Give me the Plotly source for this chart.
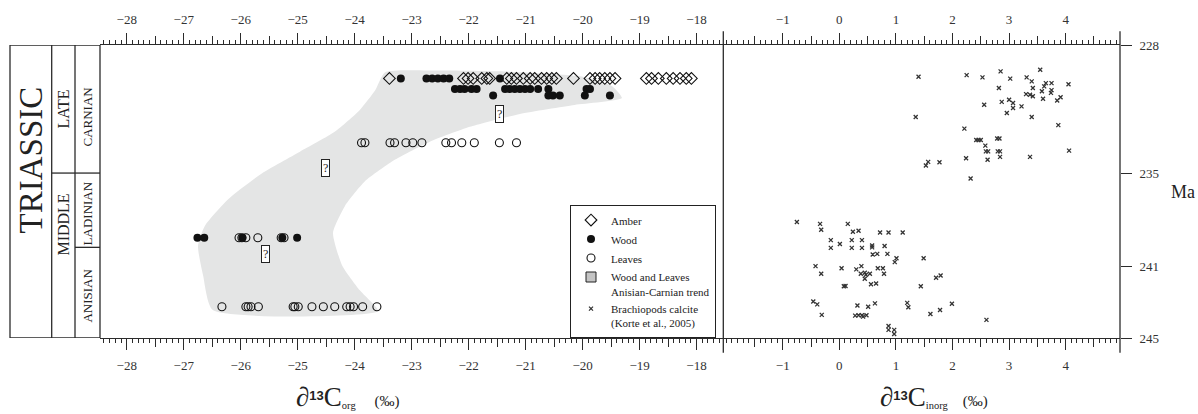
import plotly.graph_objects as go

SERIF = "Liberation Serif"
INK = "#2b2b2b"

# ---------------- organic carbon (left panel), per mil ----------------
# stratigraphic levels (age-axis position) of the sampled horizons
lvl_carnian_top = 229.94
lvl_carnian_mid = 230.55
lvl_carnian_low = 230.93
lvl_carnian_leaf = 233.67
lvl_ladinian = 239.18
lvl_anisian = 243.19

amber_d13c = [-23.39, -22.09, -22.01, -21.92, -21.77, -21.68, -21.63, -21.33, -21.25,
              -21.16, -21.04, -20.92, -20.84, -20.72, -20.63, -20.54, -20.46, -20.16,
              -19.87, -19.78, -19.70, -19.61, -19.52, -19.43, -18.88, -18.79, -18.67,
              -18.53, -18.41, -18.29, -18.18, -18.09]

wood_top = [-23.19, -22.74, -22.64, -22.54, -22.44, -22.34, -21.45]
wood_mid = [-22.24, -22.15, -22.07, -21.95, -21.86, -21.36, -21.28, -21.19, -21.10,
            -21.01, -20.92, -20.78, -20.60, -19.93, -19.87]
wood_low = [-21.57, -20.60, -20.52, -20.40, -19.96, -19.52]
wood_ladinian = [-26.76, -26.64, -25.97, -25.27, -25.01]

leaves_carnian = [-23.88, -23.82, -23.38, -23.30, -23.10, -22.98, -22.82, -22.40, -22.30,
                  -22.12, -21.90, -21.46, -21.16]
leaves_ladinian = [-26.03, -25.98, -25.91, -25.70, -25.29, -25.24]
leaves_anisian = [-26.33, -25.91, -25.87, -25.82, -25.69, -25.08, -25.05, -24.99, -24.75,
                  -24.55, -24.35, -24.14, -24.08, -24.02, -23.86, -23.61]

# outline of the Anisian-Carnian wood/leaves trend band
band_d13c = [-23.47, -23.64, -23.91, -24.35, -24.96, -25.63, -26.22, -26.63, -26.75, -26.66,
             -26.49, -23.59, -23.91, -24.22, -24.38, -24.17, -23.82, -23.29, -22.68, -21.98,
             -21.10, -20.14, -19.31, -19.48, -20.04, -21.45, -22.68]
band_age = [229.59, 230.63, 231.77, 233.04, 234.19, 235.45, 236.95, 238.50, 239.65, 241.37,
            243.38, 243.44, 242.23, 240.79, 238.90, 237.34, 235.91, 234.65, 233.61, 232.75,
            232.00, 231.48, 231.08, 230.39, 229.82, 229.53, 229.48]

# question marks placed along the trend
query_d13c = [-21.45, -24.52, -25.57]
query_age = [232.00, 235.16, 240.10]

# ---------------- brachiopod calcite (right panel), per mil ----------------
brach_d13c = [1.40, 2.25, 2.53, 2.85, 3.02, 3.31, 3.55, 3.40, 3.65, 3.75, 4.05, 3.62, 2.82,
              3.42, 3.58, 3.75, 3.74, 3.30, 3.37, 3.42, 3.60, 3.91, 3.85, 2.87, 3.00, 3.07,
              2.56, 3.22, 3.07, 2.96, 1.35, 3.40, 3.87, 2.21, 2.42, 2.46, 2.50, 2.79, 2.83,
              2.58, 2.59, 2.63, 2.80, 2.84, 2.84, 3.37, 4.06, 2.24, 2.62, 1.57, 1.53, 1.77,
              2.32,
              -0.75, -0.34, -0.32, 0.15, 0.24, 0.34, 0.72, 0.87, 1.12, -0.15, 0.22, 0.40,
              0.01, -0.15, 0.22, 0.40, 0.58, 0.58, 0.80, 0.59, 0.67, 0.85, 1.01, 0.98, 1.49,
              -0.42, -0.32, 0.04, 0.30, 0.39, 0.38, 0.45, 0.47, 0.54, 0.45, 0.68, 0.77, 0.79,
              0.56, 0.65, 0.08, 0.11, 1.44, 1.71, 1.79, -0.46, -0.39, -0.31, 0.32, 0.51,
              0.63, 0.28, 0.34, 0.40, 0.42, 0.48, 1.20, 1.22, 1.99, 1.78, 1.61, 2.60, 0.87,
              0.87, 0.97, 0.97]
brach_age = [229.84, 229.75, 229.88, 229.53, 229.95, 229.88, 229.44, 230.11, 230.21, 230.21,
             230.28, 230.40, 230.49, 230.49, 230.68, 230.62, 230.78, 230.85, 230.89, 230.97,
             231.12, 231.03, 231.22, 231.30, 231.18, 231.37, 231.47, 231.56, 231.66, 231.95,
             232.18, 232.18, 232.65, 232.85, 233.51, 233.51, 233.51, 233.42, 233.42, 233.84,
             234.17, 234.17, 234.17, 234.17, 234.49, 234.49, 234.13, 234.57, 234.66, 234.78,
             234.99, 234.80, 235.75,
             238.27, 238.38, 238.72, 238.38, 238.84, 238.78, 238.88, 238.88, 238.88, 239.32,
             239.32, 239.32, 239.55, 239.77, 239.77, 239.77, 239.63, 239.74, 239.66, 240.16,
             240.12, 240.12, 240.37, 240.60, 240.37, 240.83, 241.27, 240.95, 241.02, 240.83,
             241.27, 241.21, 241.33, 241.27, 241.56, 240.95, 240.95, 241.27, 241.88, 241.84,
             242.00, 241.98, 242.00, 241.50, 241.37, 242.88, 243.05, 243.66, 243.11, 243.19,
             242.99, 243.70, 243.68, 243.68, 243.76, 243.68, 242.96, 243.22, 243.01, 243.38,
             243.61, 243.95, 244.30, 244.53, 244.53, 244.77]

# ---------------- axes ----------------
org_ticks = [-28, -27, -26, -25, -24, -23, -22, -21, -20, -19, -18]
org_half = [-27.5, -26.5, -25.5, -24.5, -23.5, -22.5, -21.5, -20.5, -19.5, -18.5, -17.5]
inorg_ticks = [-1, 0, 1, 2, 3, 4]
inorg_half = [-1.5, -0.5, 0.5, 1.5, 2.5, 3.5, 4.5]
org_range = [-28.47, -17.53]
inorg_range = [-2.05, 4.96]

age_tick_pos = [228, 235.43, 240.85, 245]
age_tick_text = ["228", "235", "241", "245"]

# stratigraphic column boundaries (age-axis positions)
strat_top, strat_late_mid, strat_carn_lad, strat_lad_anis, strat_bottom = 228, 235.43, 235.43, 239.74, 245

W, H = 1198, 414
ML, MR, MT, MB = 100, 78, 42, 76
PW = W - ML - MR
PH = H - MT - MB
split = (723.3 - ML) / PW


def px_x(p):
    return (p - ML) / PW


def px_y(p):
    return (H - MB - p) / PH


fig = go.Figure()

# trend band
fig.add_trace(go.Scatter(
    x=band_d13c + band_d13c[:1], y=band_age + band_age[:1], mode="lines", fill="toself",
    fillcolor="#e4e5e5", line=dict(width=0, color="#e4e5e5", shape="spline", smoothing=0.55),
    showlegend=False, hoverinfo="skip", xaxis="x", yaxis="y"))

leaf_x = leaves_carnian + leaves_ladinian + leaves_anisian
leaf_y = ([lvl_carnian_leaf] * len(leaves_carnian) + [lvl_ladinian] * len(leaves_ladinian)
          + [lvl_anisian] * len(leaves_anisian))
fig.add_trace(go.Scatter(
    x=leaf_x, y=leaf_y, mode="markers", name="Leaves", legendrank=3,
    marker=dict(symbol="circle-open", size=8, color="#111", line=dict(width=1.1)),
    xaxis="x", yaxis="y"))

wood_x = wood_top + wood_mid + wood_low + wood_ladinian
wood_y = ([lvl_carnian_top] * len(wood_top) + [lvl_carnian_mid] * len(wood_mid)
          + [lvl_carnian_low] * len(wood_low) + [lvl_ladinian] * len(wood_ladinian))
fig.add_trace(go.Scatter(
    x=wood_x, y=wood_y, mode="markers", name="Wood", legendrank=2,
    marker=dict(symbol="circle", size=8, color="#111"), xaxis="x", yaxis="y"))

fig.add_trace(go.Scatter(
    x=amber_d13c, y=[lvl_carnian_top] * len(amber_d13c), mode="markers", name="Amber",
    legendrank=1,
    marker=dict(symbol="diamond-open", size=9, color="#111", line=dict(width=1.1)),
    xaxis="x", yaxis="y"))

# legend swatch for the band
fig.add_trace(go.Scatter(
    x=[None], y=[None], mode="markers", name="Wood and Leaves<br>Anisian-Carnian trend",
    legendrank=4,
    marker=dict(symbol="square", size=10, color="#c4c4c4", line=dict(color="#222", width=1)),
    xaxis="x", yaxis="y"))

fig.add_trace(go.Scatter(
    x=brach_d13c, y=brach_age, mode="markers",
    name="Brachiopods calcite<br>(Korte et al., 2005)", legendrank=5,
    marker=dict(symbol="x-thin", size=4, color="#333", line=dict(width=1.3, color="#333")),
    xaxis="x2", yaxis="y"))

# placeholder traces so every overlay axis is rendered
for ax in ["x3", "x4", "x5", "x6", "x7", "x8"]:
    fig.add_trace(go.Scatter(x=[None], y=[None], xaxis=ax, yaxis="y", showlegend=False,
                             hoverinfo="skip"))

tickfont = dict(family=SERIF, size=13, color="#333")


def x_axis(domain, rng, side, vals, labels, length, minor, overlay=None):
    d = dict(range=rng, autorange=False, side=side, anchor="y", ticks="outside",
             tickmode="array", tickvals=vals, ticklen=length, tickwidth=1.2, tickcolor=INK,
             showticklabels=labels, tickfont=tickfont, ticklabelstandoff=4,
             showgrid=False, zeroline=False, fixedrange=True)
    if overlay:
        d["overlaying"] = overlay
    else:
        d["domain"] = domain
    if minor:
        d["minor"] = dict(ticks="outside", dtick=0.1, tick0=0, ticklen=4, tickwidth=1,
                          tickcolor=INK, showgrid=False)
        d["showline"] = True
        d["linecolor"] = INK
        d["linewidth"] = 1.3
    else:
        d["showline"] = False
    return d


fig.update_layout(
    xaxis=x_axis([0, split], org_range, "bottom", org_ticks, True, 11, True),
    xaxis3=x_axis(None, org_range, "top", org_ticks, True, 11, True, overlay="x"),
    xaxis4=x_axis(None, org_range, "bottom", org_half, False, 8, False, overlay="x"),
    xaxis5=x_axis(None, org_range, "top", org_half, False, 8, False, overlay="x"),
    xaxis2=x_axis([split, 1], inorg_range, "bottom", inorg_ticks, True, 11, True),
    xaxis6=x_axis(None, inorg_range, "top", inorg_ticks, True, 11, True, overlay="x2"),
    xaxis7=x_axis(None, inorg_range, "bottom", inorg_half, False, 8, False, overlay="x2"),
    xaxis8=x_axis(None, inorg_range, "top", inorg_half, False, 8, False, overlay="x2"),
    yaxis=dict(domain=[0, 1], range=[245, 228], autorange=False, anchor="x2", side="right",
               tickmode="array", tickvals=age_tick_pos, ticktext=age_tick_text,
               ticks="outside", ticklen=11, tickwidth=1.2, tickcolor=INK, tickfont=tickfont,
               ticklabelstandoff=5, showline=False, showgrid=False, zeroline=False,
               fixedrange=True),
)

shapes = []
line_style = dict(color=INK, width=1.3)
# panel divider and right frame line, running past both axes
for xp in [split, 1.0]:
    shapes.append(dict(type="line", xref="paper", yref="paper", x0=xp, x1=xp,
                       y0=px_y(353), y1=px_y(28), line=line_style))
# stratigraphic column
c0, c1, c2, c3 = px_x(10), px_x(51.7), px_x(75), px_x(100)
shapes.append(dict(type="rect", xref="paper", yref="y", x0=c0, x1=c3, y0=strat_top,
                   y1=strat_bottom, line=line_style))
for xc in [c1, c2]:
    shapes.append(dict(type="line", xref="paper", yref="y", x0=xc, x1=xc, y0=strat_top,
                       y1=strat_bottom, line=line_style))
shapes.append(dict(type="line", xref="paper", yref="y", x0=c1, x1=c2, y0=strat_late_mid,
                   y1=strat_late_mid, line=line_style))
shapes.append(dict(type="line", xref="paper", yref="y", x0=c2, x1=c3, y0=strat_carn_lad,
                   y1=strat_carn_lad, line=line_style))
shapes.append(dict(type="line", xref="paper", yref="y", x0=c2, x1=c3, y0=strat_lad_anis,
                   y1=strat_lad_anis, line=line_style))
fig.update_layout(shapes=shapes)

ann = []


def col_label(text, xp, yv, size):
    ann.append(dict(text=text, xref="paper", yref="y", x=xp, y=yv, showarrow=False,
                    xanchor="center", yanchor="middle", textangle=-90,
                    font=dict(family=SERIF, size=size, color="#222")))


col_label("TRIASSIC", (c0 + c1) / 2, 234.65, 33)
col_label("LATE", (c1 + c2) / 2, 231.72, 16)
col_label("MIDDLE", (c1 + c2) / 2, 238.4, 16)
col_label("CARNIAN", (c2 + c3) / 2, 232.18, 13)
col_label("LADINIAN", (c2 + c3) / 2, 237.80, 13)
col_label("ANISIAN", (c2 + c3) / 2, 242.57, 13)

for qx, qy in zip(query_d13c, query_age):
    ann.append(dict(text="?", x=qx, y=qy, xref="x", yref="y", showarrow=False,
                    xanchor="center", yanchor="middle",
                    font=dict(family=SERIF, size=12, color="#222"), bgcolor="white",
                    bordercolor="#222", borderwidth=1, borderpad=1))

big = '<span style="font-size:27px">'
sup13 = '<sup><span style="font-family:Liberation Sans;font-size:13px"><b>13</b></span></sup>'
title_org = (big + "∂</span>" + sup13 + big + "C</span><sub>org</sub>"
             + "&nbsp;" * 5 + "(‰)")
title_inorg = (big + "∂</span>" + sup13 + big + "C</span><sub>inorg</sub>"
               + "&nbsp;" * 4 + "(‰)")
ann.append(dict(text=title_org, xref="paper", yref="paper", x=px_x(347), y=px_y(398),
                xanchor="center", yanchor="middle", showarrow=False,
                font=dict(family=SERIF, size=15, color="#222")))
ann.append(dict(text=title_inorg, xref="paper", yref="paper", x=px_x(934), y=px_y(398),
                xanchor="center", yanchor="middle", showarrow=False,
                font=dict(family=SERIF, size=15, color="#222")))
ann.append(dict(text="Ma", xref="paper", yref="paper", x=px_x(1183), y=px_y(191),
                xanchor="center", yanchor="middle", showarrow=False,
                font=dict(family=SERIF, size=18, color="#222")))
fig.update_layout(annotations=ann)

fig.update_layout(
    width=W, height=H, margin=dict(l=ML, r=MR, t=MT, b=MB),
    paper_bgcolor="white", plot_bgcolor="white",
    legend=dict(x=px_x(570), y=px_y(204), xanchor="left", yanchor="top",
                bordercolor="#222", borderwidth=1, bgcolor="white",
                font=dict(family=SERIF, size=11, color="#222"), valign="top",
                itemwidth=30, tracegroupgap=0),
    showlegend=True,
)

fig.write_html("out.html")
